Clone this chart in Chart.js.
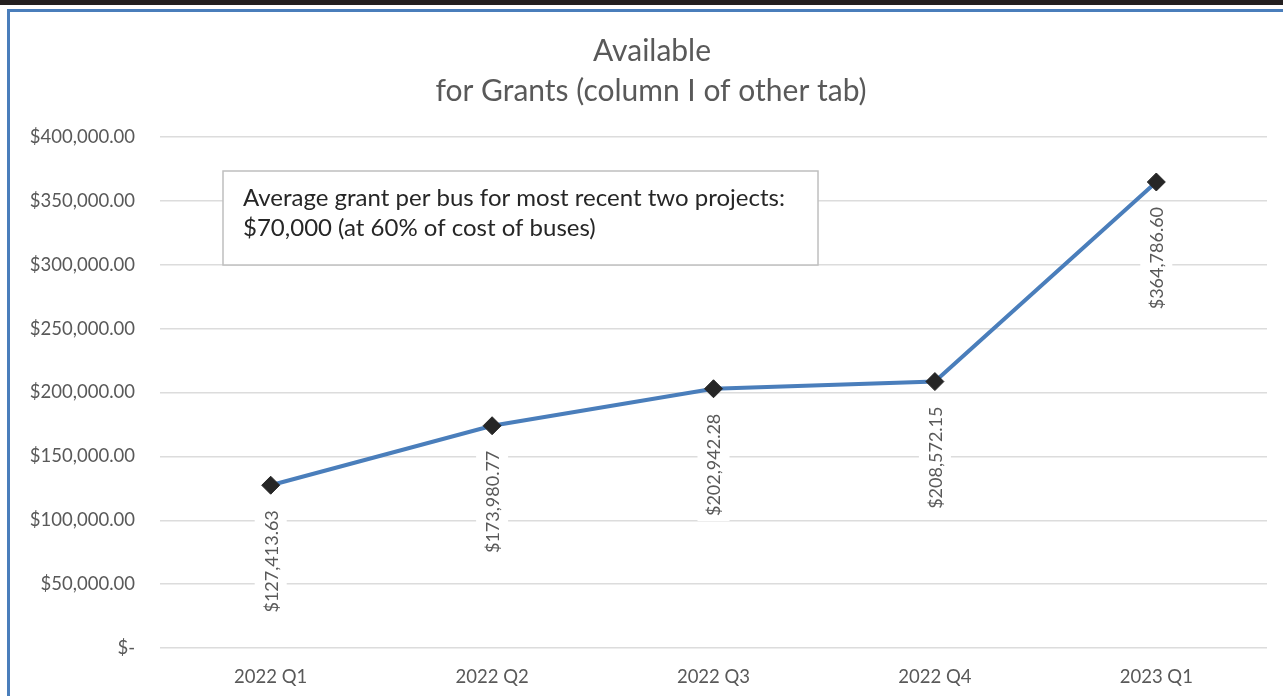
<!DOCTYPE html>
<html>
<head>
<meta charset="utf-8">
<script src="https://cdn.jsdelivr.net/npm/chart.js@4"></script>
<style>
    html, body { margin: 0; padding: 0; background: #fff; overflow: hidden; }
    #wrap { position: absolute; left: 0; top: 0; width: 1283px; height: 696px; }
    #topbar { position: absolute; left: 0; top: 0; width: 1283px; height: 5px; background: #231f20; }
    #frame { position: absolute; left: 7px; top: 9px; width: 1300px; height: 720px;
             border-left: 3px solid #4a7ebb; border-top: 3px solid #4a7ebb; pointer-events: none; }
</style>
</head>
<body>
<div id="wrap"><canvas id="grantsChart" width="1283" height="696"></canvas></div>
<div id="topbar"></div>
<div id="frame"></div>
<script>
const quarters = ['2022 Q1', '2022 Q2', '2022 Q3', '2022 Q4', '2023 Q1'];
const available = [127413.63, 173980.77, 202942.28, 208572.15, 364786.60];
const yTickLabels = ['$-', '$50,000.00', '$100,000.00', '$150,000.00', '$200,000.00',
                     '$250,000.00', '$300,000.00', '$350,000.00', '$400,000.00'];
const titleLines = ['Available', 'for Grants (column I of other tab)'];
const noteLines = ['Average grant per bus for most recent two projects:', '$70,000 (at 60% of cost of buses)'];

const FONT = 'Lato, "Open Sans", sans-serif';
const GREY = '#595959';

function money(v) {
    return '$' + v.toLocaleString('en-US', { minimumFractionDigits: 2, maximumFractionDigits: 2 });
}

// title, text box and vertical value labels
const extras = {
    id: 'extras',
    afterDraw(chart) {
        const ctx = chart.ctx;
        const area = chart.chartArea;
        ctx.save();

        ctx.fillStyle = GREY;
        ctx.font = '30px ' + FONT;
        ctx.textAlign = 'center';
        ctx.textBaseline = 'middle';
        ctx.fillText(titleLines[0], 652, 51);
        ctx.fillText(titleLines[1], 651, 91);

        // note box
        const bx = area.left + 63, by = area.top + 34, bw = 595, bh = 94;
        ctx.fillStyle = '#fff';
        ctx.fillRect(bx, by, bw, bh);
        ctx.strokeStyle = '#bfbfbf';
        ctx.lineWidth = 1.5;
        ctx.strokeRect(bx, by, bw, bh);
        ctx.fillStyle = '#262626';
        ctx.font = '24px ' + FONT;
        ctx.textAlign = 'left';
        ctx.textBaseline = 'alphabetic';
        ctx.fillText(noteLines[0], bx + 20, by + 35);
        ctx.fillText(noteLines[1], bx + 20, by + 65);

        // value labels under each point
        const meta = chart.getDatasetMeta(0);
        ctx.font = '18px ' + FONT;
        meta.data.forEach((pt, i) => {
            const txt = money(available[i]);
            const w = ctx.measureText(txt).width;
            const top = pt.y + 22;
            ctx.fillStyle = '#fff';
            ctx.fillRect(pt.x - 16, top, 32, w + 8);
            ctx.save();
            ctx.translate(pt.x, top + 3);
            ctx.rotate(-Math.PI / 2);
            ctx.fillStyle = GREY;
            ctx.textAlign = 'right';
            ctx.textBaseline = 'middle';
            ctx.fillText(txt, 0, 1);
            ctx.restore();
        });

        ctx.restore();
    }
};

new Chart(document.getElementById('grantsChart'), {
    type: 'line',
    data: {
        labels: quarters,
        datasets: [{
            data: available,
            borderColor: '#4a7ebb',
            borderWidth: 4,
            pointStyle: 'rectRot',
            pointRadius: 9,
            pointBackgroundColor: '#262626',
            pointBorderColor: '#262626',
            pointBorderWidth: 1,
            tension: 0
        }]
    },
    options: {
        responsive: false,
        animation: false,
        layout: { padding: { left: 10, right: 16, top: 137, bottom: 0 } },
        plugins: {
            legend: { display: false },
            tooltip: { enabled: false },
            title: { display: false }
        },
        scales: {
            x: {
                offset: true,
                grid: { display: false, drawTicks: false },
                border: { display: false },
                ticks: { color: GREY, font: { family: FONT, size: 18.5 }, padding: 18 },
                afterFit(scale) { scale.height = 48; }
            },
            y: {
                min: 0,
                max: 400000,
                grid: { color: '#dcdcdc', lineWidth: 1.5, drawTicks: false },
                border: { display: false },
                ticks: {
                    stepSize: 50000,
                    color: GREY,
                    font: { family: FONT, size: 18.5 },
                    padding: 25,
                    callback: (v, i) => yTickLabels[i]
                },
                afterFit(scale) { scale.width = 150; }
            }
        }
    },
    plugins: [extras]
});
</script>
</body>
</html>
